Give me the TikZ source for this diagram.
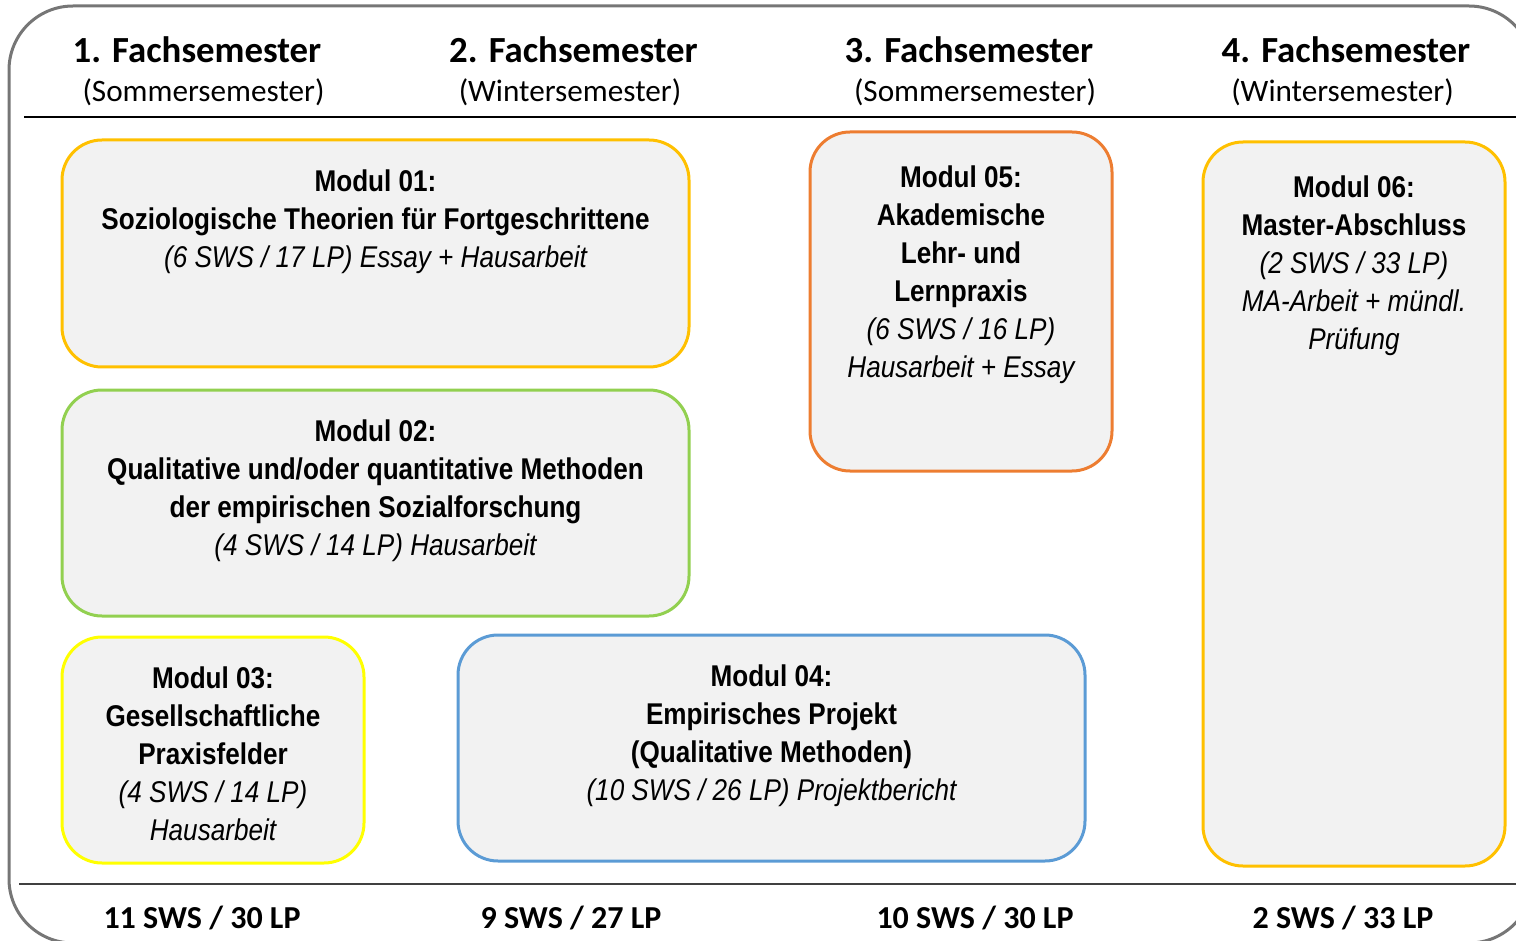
\documentclass[tikz,border=0pt]{standalone}
\usepackage{fontspec}
\setmainfont{Carlito}
\newfontfamily\narrowfont{Liberation Sans}[FakeStretch=0.87]
\usetikzlibrary{positioning}
\definecolor{framegray}{HTML}{767676}
\definecolor{boxfill}{HTML}{F2F2F2}
\definecolor{amber}{HTML}{FFC000}
\definecolor{lgreen}{HTML}{92D050}
\definecolor{lyellow}{HTML}{FFFF00}
\definecolor{lblue}{HTML}{5B9BD5}
\definecolor{lorange}{HTML}{ED7D31}

\begin{document}
\begin{tikzpicture}[x=0.5pt, y=-0.5pt,
	modbox/.style={draw, fill=boxfill, rounded corners=20pt, line width=1.5pt, inner sep=0pt},
	modtext/.style={font=\narrowfont\fontsize{15}{19}\selectfont, align=center, inner sep=0pt}]
	\useasboundingbox (0,0) rectangle (1516,941);
	\draw[framegray, line width=1.5pt, rounded corners=32pt] (9,6) rectangle (1533,943);
	\coordinate (topL) at (24,117);
	\coordinate (topR) at (1516,117);
	\coordinate (botL) at (19,884);
	\coordinate (botR) at (1516,884);
	\draw[line width=0.75pt] (topL) -- (topR);
	\draw[line width=1pt, black!75] (botL) -- (botR);
	
	% semester heads and sums
	\begin{scope}[every node/.style={anchor=base, inner sep=0pt}]
		\node[font=\fontsize{18.4}{22}\selectfont\bfseries] (sem1) at (197,63) {1. Fachsemester};
		\node[font=\fontsize{18.4}{22}\selectfont\bfseries] (sem2) at (573.5,63) {2. Fachsemester};
		\node[font=\fontsize{18.4}{22}\selectfont\bfseries] (sem3) at (969,63) {3. Fachsemester};
		\node[font=\fontsize{18.4}{22}\selectfont\bfseries] (sem4) at (1346,63) {4. Fachsemester};
		\node[font=\fontsize{15.6}{19}\selectfont] (sub1) at (203.5,102) {(Sommersemester)};
		\node[font=\fontsize{15.6}{19}\selectfont] (sub2) at (570,102) {(Wintersemester)};
		\node[font=\fontsize{15.6}{19}\selectfont] (sub3) at (975,102) {(Sommersemester)};
		\node[font=\fontsize{15.6}{19}\selectfont] (sub4) at (1342.5,102) {(Wintersemester)};
		\node[font=\fontsize{16}{19}\selectfont\bfseries] (sum1) at (202,928) {11 SWS / 30 LP};
		\node[font=\fontsize{16}{19}\selectfont\bfseries] (sum2) at (571,928) {9 SWS / 27 LP};
		\node[font=\fontsize{16}{19}\selectfont\bfseries] (sum3) at (975,928) {10 SWS / 30 LP};
		\node[font=\fontsize{16}{19}\selectfont\bfseries] (sum4) at (1343,928) {2 SWS / 33 LP};
	\end{scope}
	
	% module boxes
	\node[modbox, draw=amber, minimum width=313.5pt, minimum height=113.5pt] (m01) at (375.5,253.5) {};
	\node[modbox, draw=lgreen, minimum width=313.5pt, minimum height=113pt] (m02) at (375.5,503) {};
	\node[modbox, draw=lyellow, minimum width=151pt, minimum height=113pt] (m03) at (213,750) {};
	\node[modbox, draw=lblue, minimum width=313.5pt, minimum height=113pt] (m04) at (771.5,748) {};
	\node[modbox, draw=lorange, minimum width=151pt, minimum height=169.5pt] (m05) at (961,301.5) {};
	\node[modbox, draw=amber, minimum width=151pt, minimum height=362pt] (m06) at (1354,504) {};
	
	\node[modtext, below=15.5pt of m01.north] (t01) {\bfseries Modul 01:\\ \bfseries Soziologische Theorien für Fortgeschrittene\\ \itshape (6 SWS / 17 LP) Essay + Hausarbeit};
	\node[modtext, below=15.5pt of m02.north] (t02) {\bfseries Modul 02:\\ \bfseries Qualitative und/oder quantitative Methoden\\ \bfseries der empirischen Sozialforschung\\ \itshape (4 SWS / 14 LP) Hausarbeit};
	\node[modtext, below=15.5pt of m03.north] (t03) {\bfseries Modul 03:\\ \bfseries Gesellschaftliche\\ \bfseries Praxisfelder\\ \itshape (4 SWS / 14 LP)\\ \itshape Hausarbeit};
	\node[modtext, below=15.5pt of m04.north] (t04) {\bfseries Modul 04:\\ \bfseries Empirisches Projekt\\ \bfseries (Qualitative Methoden)\\ \itshape (10 SWS / 26 LP) Projektbericht};
	\node[modtext, below=17.5pt of m05.north] (t05) {\bfseries Modul 05:\\ \bfseries Akademische\\ \bfseries Lehr- und\\ \bfseries Lernpraxis\\ \itshape (6 SWS / 16 LP)\\ \itshape Hausarbeit + Essay};
	\node[modtext, below=17.5pt of m06.north] (t06) {\bfseries Modul 06:\\ \bfseries Master-Abschluss\\ \itshape (2 SWS / 33 LP)\\ \itshape MA-Arbeit + mündl.\\ \itshape Prüfung};
\end{tikzpicture}
\end{document}
